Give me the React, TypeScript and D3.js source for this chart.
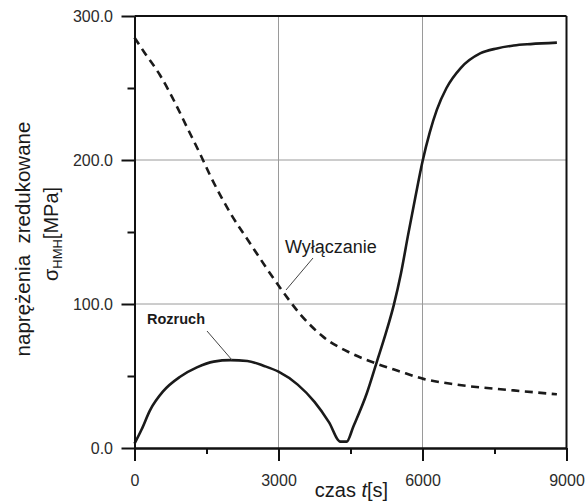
import React, { useEffect, useRef } from 'react';
import * as d3 from 'd3';

// Rozruch (start-up) - time [s] and reduced stress [MPa]
const startupTime = [0, 150, 320, 600, 950, 1300, 1650, 2000, 2350, 2700, 3000, 3400, 3750, 4050, 4290, 4420, 4560, 4840, 5050, 5230, 5400, 5550, 5700, 5850, 6000, 6150, 6300, 6500, 6800, 7200, 7550, 7900, 8250, 8800];
const startupStress = [3, 13, 26, 39.5, 49.5, 56, 60, 61, 60.4, 57, 53, 44, 32, 18, 4.4, 4.4, 15, 38, 60, 79, 99, 121, 148, 174, 199, 219, 235, 250, 264, 274, 277.5, 279.5, 280.5, 281.5];

// Wylaczanie (shut-down)
const shutdownTime = [0, 220, 530, 810, 1090, 1370, 1580, 2000, 2410, 3040, 3450, 3940, 4500, 5050, 5500, 6020, 6720, 7900, 8800];
const shutdownStress = [285, 274, 259, 242, 223, 204, 189, 163, 142, 111, 93, 77, 66, 58.5, 53.5, 48, 44, 40, 37.3];

const xMajor = [0, 3000, 6000, 9000];
const xMinor = [1500, 4500, 7500];
const yMajor = [0, 100, 200, 300];
const yMinor = [50, 150, 250];
const gridX = [3000, 6000];
const gridY = [100, 200];

const FONT = "Arial, 'Liberation Sans', sans-serif";

const App = () => {
  const svgRef = useRef<SVGSVGElement>(null);

  useEffect(() => {
    const svg = d3.select(svgRef.current);
    svg.selectAll('*').remove();

    const x = d3.scaleLinear().domain([0, 9000]).range([134.5, 566.5]);
    const y = d3.scaleLinear().domain([0, 300]).range([448, 16]);

    // grid
    const grid = svg.append('g').attr('stroke', '#9a9a9a').attr('stroke-width', 1);
    grid.selectAll('.gx').data(gridX).enter().append('line')
      .attr('x1', d => x(d)).attr('x2', d => x(d))
      .attr('y1', y(0)).attr('y2', y(300));
    grid.selectAll('.gy').data(gridY).enter().append('line')
      .attr('x1', x(0)).attr('x2', x(9000))
      .attr('y1', d => y(d)).attr('y2', d => y(d));

    // curves
    const line = (xs: number[], ys: number[]) =>
      d3.line<number>()
        .x((_, i) => x(xs[i]))
        .y((_, i) => y(ys[i]))
        .curve(d3.curveMonotoneX)(ys);

    svg.append('path')
      .attr('d', line(shutdownTime, shutdownStress))
      .attr('fill', 'none').attr('stroke', '#1a1a1a')
      .attr('stroke-width', 2.6).attr('stroke-dasharray', '8,5.5');

    svg.append('path')
      .attr('d', line(startupTime, startupStress))
      .attr('fill', 'none').attr('stroke', '#1a1a1a')
      .attr('stroke-width', 2.6);

    // axes
    const styleAxis = (g: any) => {
      g.select('.domain').attr('stroke', '#111').attr('stroke-width', 2);
      g.selectAll('.tick line').attr('stroke', '#111').attr('stroke-width', 2);
      g.selectAll('.tick text').attr('fill', '#2b2b2b')
        .style('font-size', '16px').style('font-family', FONT);
    };

    svg.append('g').attr('transform', `translate(0,${y(0)})`)
      .call(d3.axisBottom(x).tickValues(xMinor).tickSize(6).tickSizeOuter(0).tickFormat(() => ''))
      .call(styleAxis);
    svg.append('g').attr('transform', `translate(0,${y(0)})`)
      .call(d3.axisBottom(x).tickValues(xMajor).tickSize(13).tickSizeOuter(0).tickPadding(14).tickFormat(d3.format('d')))
      .call(styleAxis);

    svg.append('g').attr('transform', `translate(${x(0)},0)`)
      .call(d3.axisLeft(y).tickValues(yMinor).tickSize(7).tickSizeOuter(0).tickFormat(() => ''))
      .call(styleAxis);
    svg.append('g').attr('transform', `translate(${x(0)},0)`)
      .call(d3.axisLeft(y).tickValues(yMajor).tickSize(13).tickSizeOuter(0).tickPadding(8.5).tickFormat(d3.format('.1f')))
      .call(styleAxis);

    // top and right frame
    svg.append('line').attr('x1', x(0)).attr('x2', x(9000)).attr('y1', y(300)).attr('y2', y(300))
      .attr('stroke', '#111').attr('stroke-width', 2);
    svg.append('line').attr('x1', x(9000)).attr('x2', x(9000)).attr('y1', y(300)).attr('y2', y(0))
      .attr('stroke', '#111').attr('stroke-width', 2);

    // annotations
    svg.append('text').attr('x', 147).attr('y', 324)
      .style('font-family', FONT).style('font-size', '14.5px').style('font-weight', 'bold')
      .attr('fill', '#1a1a1a').text('Rozruch');
    svg.append('line').attr('x1', 207).attr('y1', 331).attr('x2', 232).attr('y2', 360)
      .attr('stroke', '#444').attr('stroke-width', 1);

    svg.append('text').attr('x', 285).attr('y', 253)
      .style('font-family', FONT).style('font-size', '18px')
      .attr('fill', '#1a1a1a').text('Wyłączanie');
    svg.append('line').attr('x1', 313).attr('y1', 258).attr('x2', 286).attr('y2', 290)
      .attr('stroke', '#444').attr('stroke-width', 1);

    // axis titles
    svg.append('text').attr('x', 351.5).attr('y', 497).attr('text-anchor', 'middle')
      .style('font-family', FONT).style('font-size', '20px').attr('fill', '#1a1a1a')
      .call((t: any) => {
        t.append('tspan').text('czas ');
        t.append('tspan').style('font-style', 'italic').text('t');
        t.append('tspan').text('[s]');
      });

    svg.append('text').attr('transform', 'translate(30,239) rotate(-90)').attr('text-anchor', 'middle')
      .style('font-family', FONT).style('font-size', '20.5px').attr('fill', '#1a1a1a')
      .attr('xml:space', 'preserve')
      .text('naprężenia  zredukowane');

    const t2 = svg.append('text').attr('transform', 'translate(58,234) rotate(-90)').attr('text-anchor', 'middle')
      .style('font-family', FONT).style('font-size', '20px').attr('fill', '#1a1a1a');
    t2.append('tspan').text('σ');
    t2.append('tspan').attr('dy', 4).style('font-size', '13px').text('HMH');
    t2.append('tspan').attr('dy', -4).text('[MPa]');
  }, []);

  return (
    <svg ref={svgRef} width={587} height={503}
      style={{ position: 'absolute', left: 0, top: 0, background: '#fff' }} />
  );
};

export default App;
